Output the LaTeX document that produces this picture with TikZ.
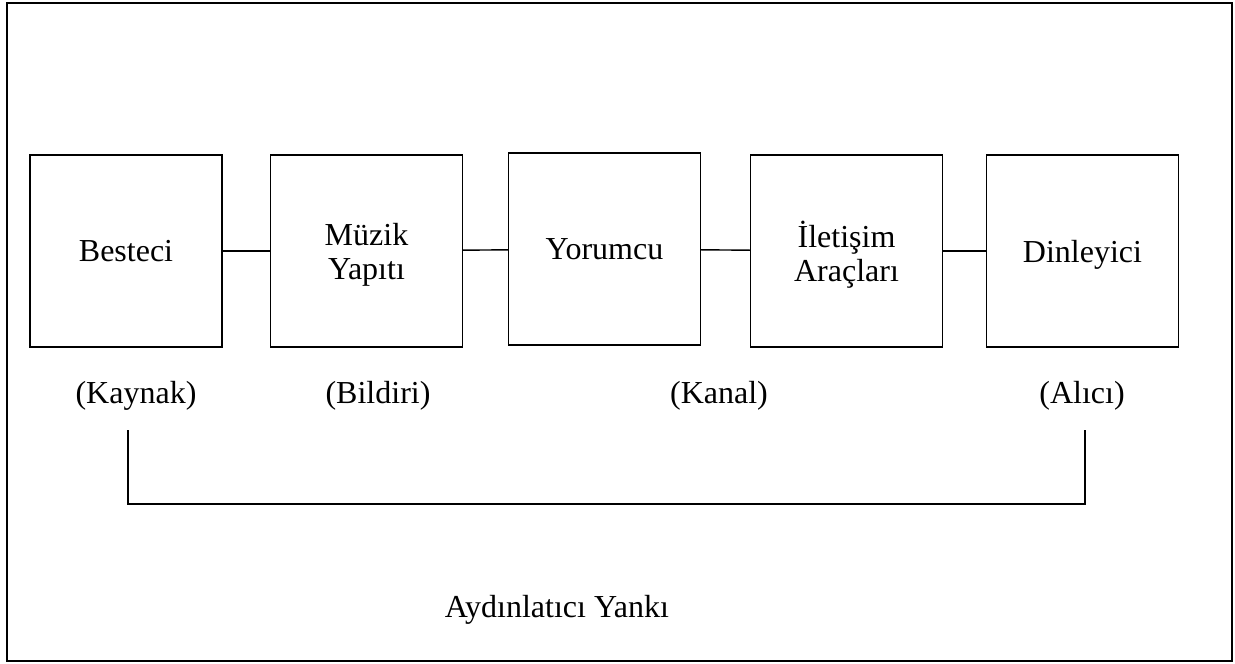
\documentclass[tikz,border=0pt]{standalone}
\usepackage{fontspec}
\setmainfont{Liberation Serif}
\usepackage{tikz}
\usetikzlibrary{shapes}
\usetikzlibrary{positioning}
\usetikzlibrary{calc}
\tikzstyle{kutu}=[
        rectangle,
        draw,
        line width=0.7pt,
        minimum width=96pt,
        minimum height=96pt,
        inner sep=0pt,
        align=center,
        text depth=0pt,
        font=\fontsize{16}{17}\selectfont
]
\tikzstyle{etiket}=[anchor=base,inner sep=0pt,font=\fontsize{16}{17}\selectfont]
\tikzstyle{cizgi}=[line width=0.7pt]
\tikzstyle{cerceve}=[line width=1pt]

\begin{document}
\begin{tikzpicture}[x=0.5pt,y=-0.5pt]
\useasboundingbox (0,0) rectangle (1235,663);
\draw[cerceve] (7,3) rectangle (1232,661);
\node[kutu] (besteci) at (126,251) {Besteci};
\node[kutu] (yapit) at (366.5,251) {Müzik\\Yapıtı};
\node[kutu] (yorumcu) at (604.5,249) {Yorumcu};
\node[kutu] (iletisim) at (846.5,251) {İletişim\\Araçları};
\node[kutu] (dinleyici) at (1082.5,251) {Dinleyici};
\node[etiket] (kaynak) at (136,403) {(Kaynak)};
\node[etiket] (bildiri) at (378,403) {(Bildiri)};
\node[etiket] (kanal) at (719,403) {(Kanal)};
\node[etiket] (alici) at (1082,403) {(Alıcı)};
\node[etiket] (yanki) at (557,617) {Aydınlatıcı Yankı};
\coordinate (sol) at (128,430);
\coordinate (sag) at (1085,430);
%Baglantilar
\draw[cizgi] (besteci) -- (yapit);
\draw[cizgi] (yapit) -- (yorumcu);
\draw[cizgi] (yorumcu) -- (iletisim);
\draw[cizgi] (iletisim) -- (dinleyici);
\draw[cizgi] (sol) -- ++(0,74) -| (sag);
\end{tikzpicture}
\end{document}
